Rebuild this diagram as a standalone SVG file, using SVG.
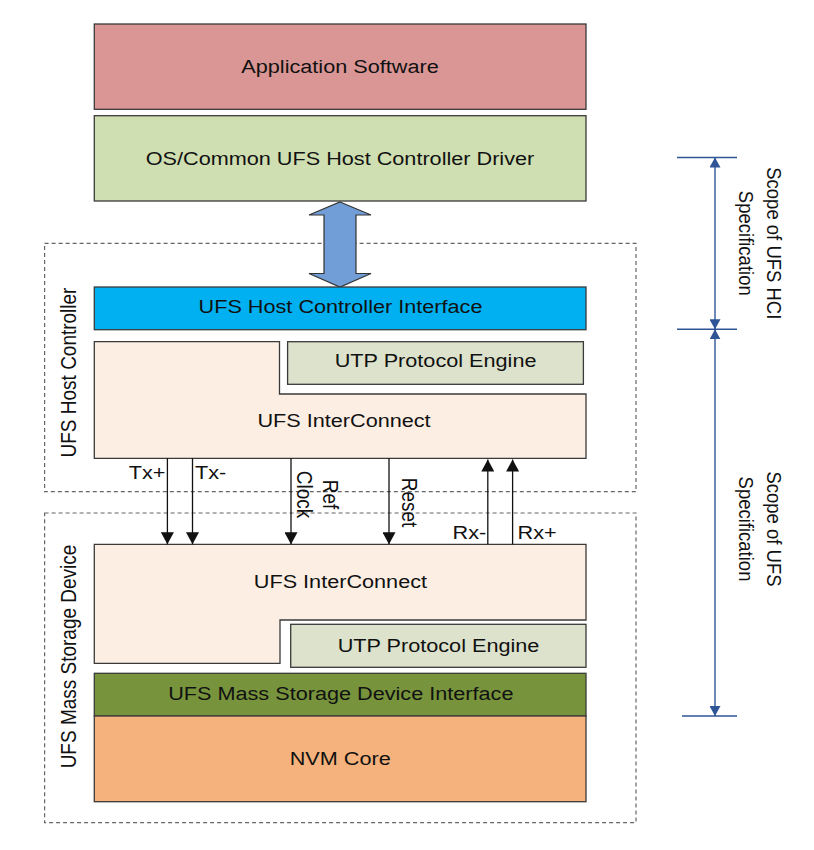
<svg xmlns="http://www.w3.org/2000/svg" width="814" height="850" viewBox="0 0 814 850">
<style>
.box{stroke:#3a3a3a;stroke-width:1.3}
.dash{fill:none;stroke:#666;stroke-width:1.2;stroke-dasharray:4 3}
text{font-family:"Liberation Sans",Arial,sans-serif;font-size:19px;fill:#111}
.c{text-anchor:middle}
.sig{stroke:#111;stroke-width:1.3;fill:none}
.scope{stroke:#2F5597;stroke-width:1.4;fill:none}
</style>
<defs>
<marker id="ah" markerUnits="userSpaceOnUse" markerWidth="12" markerHeight="13" viewBox="0 0 12 13" refX="12" refY="6.5" orient="auto">
<path d="M0,0 L12,6.5 L0,13 z" fill="#111"/>
</marker>
<marker id="bh" markerUnits="userSpaceOnUse" markerWidth="10" markerHeight="11" viewBox="0 0 10 11" refX="10" refY="5.5" orient="auto-start-reverse">
<path d="M0,0 L10,5.5 L0,11 z" fill="#2F5597"/>
</marker>
</defs>
<rect width="814" height="850" fill="#fff"/>

<g id="host-controller">
<rect class="dash" x="44.6" y="243.3" width="591.4" height="248.4"/>
<g transform="translate(76,372.5) scale(1.14,1) rotate(-90)"><text class="c" x="0" y="0">UFS Host Controller</text></g>
</g>
<g id="mass-storage-device">
<rect class="dash" x="44.6" y="513" width="591.4" height="309.7"/>
<g transform="translate(76,656.5) scale(1.14,1) rotate(-90)"><text class="c" x="0" y="0">UFS Mass Storage Device</text></g>
</g>

<g id="app-software">
<rect class="box" x="94.3" y="24" width="491.7" height="85.3" fill="#D99694"/>
<g transform="translate(340,73.3) scale(1.14,1)"><text class="c">Application Software</text></g>
</g>
<g id="host-driver">
<rect class="box" x="94.3" y="115.7" width="491.7" height="85.3" fill="#D0DFB1"/>
<g transform="translate(340,165) scale(1.14,1)"><text class="c">OS/Common UFS Host Controller Driver</text></g>
</g>
<g id="hci-arrow">
<polygon points="340,202 371,215 356,215 356,273.5 371,273.5 340,287 309,273.5 324,273.5 324,215 309,215" fill="#729ED8" stroke="#333" stroke-width="1.2" stroke-linejoin="miter"/>
</g>
<g id="hci">
<rect class="box" x="94.3" y="287" width="491.7" height="42.7" fill="#00B0F0"/>
<g transform="translate(340.5,313.3) scale(1.14,1)"><text class="c">UFS Host Controller Interface</text></g>
</g>
<g id="host-interconnect">
<polygon class="box" points="94.3,341.7 279.5,341.7 279.5,394 586,394 586,458.3 94.3,458.3" fill="#FDEEE3"/>
<g transform="translate(344,426.7) scale(1.14,1)"><text class="c">UFS InterConnect</text></g>
</g>
<g id="host-utp">
<rect class="box" x="287.6" y="341.7" width="295.8" height="42.6" fill="#DCE2CC"/>
<g transform="translate(435.6,367.3) scale(1.14,1)"><text class="c">UTP Protocol Engine</text></g>
</g>

<g id="dev-interconnect">
<polygon class="box" points="94.3,544.3 586,544.3 586,620 280,620 280,663.3 94.3,663.3" fill="#FDEEE3"/>
<g transform="translate(340.4,588.3) scale(1.14,1)"><text class="c">UFS InterConnect</text></g>
</g>
<g id="dev-utp">
<rect class="box" x="290.7" y="624.3" width="295.3" height="43" fill="#DCE2CC"/>
<g transform="translate(438.5,652.3) scale(1.14,1)"><text class="c">UTP Protocol Engine</text></g>
</g>
<g id="msd-interface">
<rect class="box" x="94.3" y="673.3" width="491.7" height="42.7" fill="#77943C"/>
<g transform="translate(340.8,700) scale(1.14,1)"><text class="c">UFS Mass Storage Device Interface</text></g>
</g>
<g id="nvm-core">
<rect class="box" x="94.3" y="716" width="491.7" height="85.7" fill="#F6B27C"/>
<g transform="translate(340.2,765) scale(1.14,1)"><text class="c">NVM Core</text></g>
</g>

<g id="connectors">
<line class="sig" x1="167.4" y1="458.3" x2="167.4" y2="544.3" marker-end="url(#ah)"/>
<line class="sig" x1="192.5" y1="458.3" x2="192.5" y2="544.3" marker-end="url(#ah)"/>
<line class="sig" x1="291" y1="458.3" x2="291" y2="544.3" marker-end="url(#ah)"/>
<line class="sig" x1="389" y1="458.3" x2="389" y2="544.3" marker-end="url(#ah)"/>
<line class="sig" x1="487.8" y1="544.3" x2="487.8" y2="459.5" marker-end="url(#ah)"/>
<line class="sig" x1="512.6" y1="544.3" x2="512.6" y2="459.5" marker-end="url(#ah)"/>
<g transform="translate(128.8,479) scale(1.14,1)"><text>Tx+</text></g>
<g transform="translate(195,479) scale(1.14,1)"><text>Tx-</text></g>
<g transform="translate(310,494.5) scale(1.14,1) rotate(90)"><text class="c" y="-11.4">Ref</text><text class="c" y="11.4">Clock</text></g>
<g transform="translate(401.5,502.5) scale(1.14,1) rotate(90)"><text class="c">Reset</text></g>
<g transform="translate(452.5,538.5) scale(1.14,1)"><text>Rx-</text></g>
<g transform="translate(517.6,538.5) scale(1.14,1)"><text>Rx+</text></g>
</g>

<g id="scope">
<line class="scope" x1="677" y1="157.5" x2="737" y2="157.5"/>
<line class="scope" x1="677" y1="329.3" x2="737" y2="329.3"/>
<line class="scope" x1="682" y1="716" x2="737" y2="716"/>
<line class="scope" x1="715" y1="157.5" x2="715" y2="329.3" marker-start="url(#bh)" marker-end="url(#bh)"/>
<line class="scope" x1="715" y1="329.3" x2="715" y2="716" marker-start="url(#bh)" marker-end="url(#bh)"/>
<g transform="translate(753,243.3) scale(1.14,1) rotate(90)" font-size="18.5"><text class="c" y="-12" style="font-size:18.5px">Scope of UFS HCI</text><text class="c" y="12" style="font-size:18.5px">Specification</text></g>
<g transform="translate(753,529) scale(1.14,1) rotate(90)"><text class="c" y="-12" style="font-size:18.5px">Scope of UFS</text><text class="c" y="12" style="font-size:18.5px">Specification</text></g>
</g>
</svg>
